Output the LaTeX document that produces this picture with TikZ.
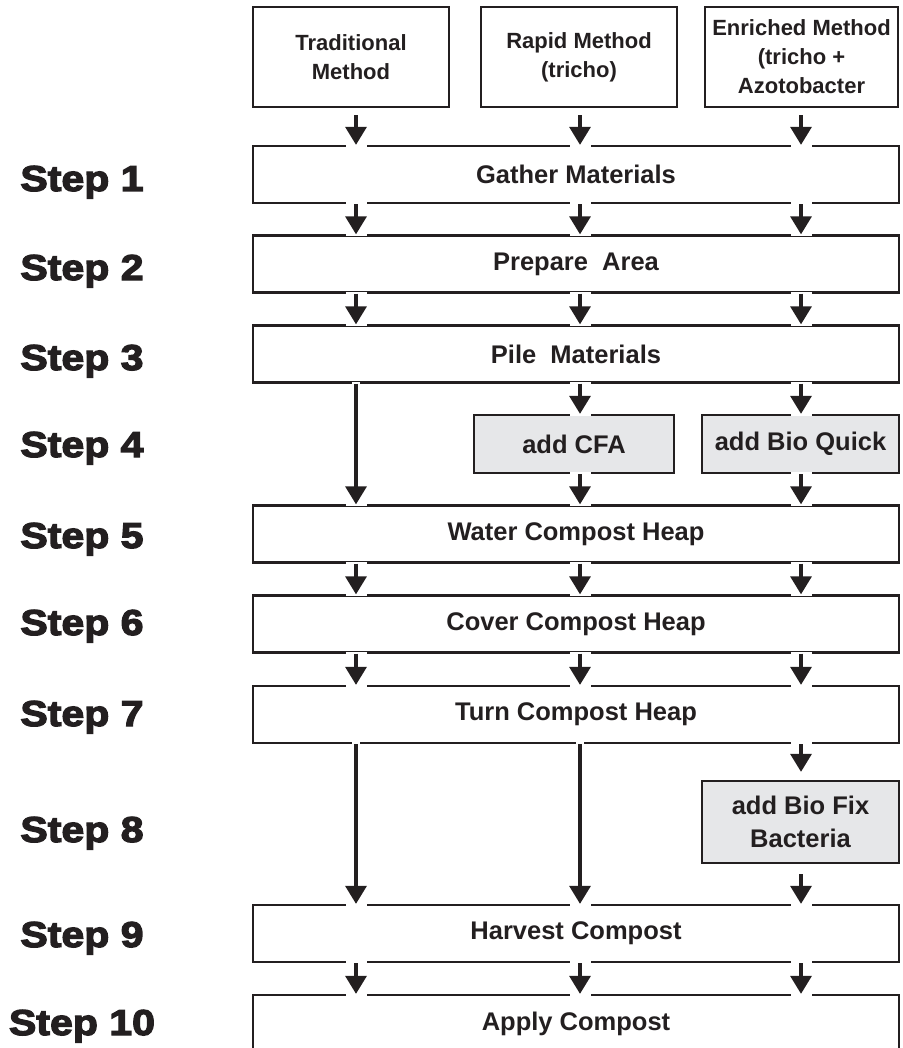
\documentclass[tikz,border=0pt]{standalone}
\usepackage{fontspec}
\usetikzlibrary{arrows.meta, decorations.markings}
\newfontfamily\boxfont{Liberation Sans}
\newfontfamily\stepfont{Liberation Sans}[FakeBold=3.5, FakeStretch=1.14]
\definecolor{ink}{RGB}{35,31,32}
\definecolor{boxgray}{RGB}{230,231,233}

\begin{document}
\begin{tikzpicture}[x=1pt, y=-1pt, color=ink,
  head/.style={draw, line width=2.3pt, minimum width=196pt, minimum height=100pt,
    inner sep=0pt, align=center, font=\boxfont\bfseries\fontsize{22}{29}\selectfont},
  stage/.style={draw, line width=2.3pt, minimum width=646pt, minimum height=57pt,
    inner sep=0pt, align=center, font=\boxfont\bfseries\fontsize{25.5}{29}\selectfont},
  extra/.style={stage, fill=boxgray, minimum width=197pt, minimum height=58pt},
  steplabel/.style={anchor=base, font=\stepfont\bfseries\fontsize{36}{36}\selectfont},
  flow/.style={line width=3.3pt, -{Triangle[width=21pt, length=18pt]}},
  notchend/.style={preaction={decorate, decoration={markings,
    mark=at position 0.999 with {\fill[white] (-3pt,-10.5pt) rectangle (2pt,10.5pt);}}}},
  notchstart/.style={preaction={decorate, decoration={markings,
    mark=at position 0.001 with {\fill[white] (-2pt,-#1) rectangle (3pt,#1);}}}},
  notchstart/.default=10.5pt
]
\useasboundingbox (0,0) rectangle (902,1048);

%% --- columns of the three methods ---
\coordinate (colA) at (356,0);
\coordinate (colB) at (580,0);
\coordinate (colC) at (801,0);

%% --- method boxes ---
\node[head] (trad) at (351,57) {Traditional\\Method};
\node[head] (rapid) at (579,57) {Rapid Method\\(tricho)};
\node[head, minimum width=193pt] (enriched) at (801.5,57)
  {Enriched Method\\(tricho +\\Azotobacter};

%% --- common stages ---
\node[stage] (gather)  at (576,174.5) {Gather Materials};
\node[stage] (prepare) at (576,264)   {Prepare~ Area};
\node[stage] (pile)    at (576,354)   {Pile~ Materials};
\node[stage] (water)   at (576,534)   {Water Compost Heap};
\node[stage] (cover)   at (576,624)   {Cover Compost Heap};
\node[stage] (turn)    at (576,714.5) {Turn Compost Heap};
\node[stage] (harvest) at (576,933.5) {Harvest Compost};
\node[stage] (apply)   at (576,1023.5) {Apply Compost};

%% --- additions ---
\node[extra, minimum width=200pt] (cfa) at (574,444) {add CFA};
\node[extra] (quick) at (800.5,444) {add Bio Quick};
\node[extra, minimum height=82pt, font=\boxfont\bfseries\fontsize{25.5}{33}\selectfont]
  (biofix) at (800.5,822) {add Bio Fix\\Bacteria};

%% --- step labels ---
\node[steplabel] (s1)  at (82,191)  {Step 1};
\node[steplabel] (s2)  at (82,280)  {Step 2};
\node[steplabel] (s3)  at (82,370)  {Step 3};
\node[steplabel] (s4)  at (82,457)  {Step 4};
\node[steplabel] (s5)  at (82,548)  {Step 5};
\node[steplabel] (s6)  at (82,635)  {Step 6};
\node[steplabel] (s7)  at (82,726)  {Step 7};
\node[steplabel] (s8)  at (82,842)  {Step 8};
\node[steplabel] (s9)  at (82,947)  {Step 9};
\node[steplabel] (s10) at (82,1035) {Step 10};

%% --- methods into step 1 ---
\draw[flow, shorten <=7pt, notchend] (trad.south -| colA) -- (gather.north -| colA);
\draw[flow, shorten <=7pt, notchend] (rapid.south -| colB) -- (gather.north -| colB);
\draw[flow, shorten <=7pt, notchend] (enriched.south -| colC) -- (gather.north -| colC);

%% --- steps 1 to 3 ---
\draw[flow, notchstart, notchend] (gather.south -| colA) -- (prepare.north -| colA);
\draw[flow, notchstart, notchend] (gather.south -| colB) -- (prepare.north -| colB);
\draw[flow, notchstart, notchend] (gather.south -| colC) -- (prepare.north -| colC);
\draw[flow, notchstart, notchend] (prepare.south -| colA) -- (pile.north -| colA);
\draw[flow, notchstart, notchend] (prepare.south -| colB) -- (pile.north -| colB);
\draw[flow, notchstart, notchend] (prepare.south -| colC) -- (pile.north -| colC);

%% --- step 4 ---
\draw[flow, notchstart=4pt, notchend] (pile.south -| colA) -- (water.north -| colA);
\draw[flow, notchstart, notchend] (pile.south -| colB) -- (cfa.north -| colB);
\draw[flow, notchstart, notchend] (pile.south -| colC) -- (quick.north -| colC);
\draw[flow, notchstart, notchend] (cfa.south -| colB) -- (water.north -| colB);
\draw[flow, notchstart, notchend] (quick.south -| colC) -- (water.north -| colC);

%% --- steps 5 to 7 ---
\draw[flow, notchstart, notchend] (water.south -| colA) -- (cover.north -| colA);
\draw[flow, notchstart, notchend] (water.south -| colB) -- (cover.north -| colB);
\draw[flow, notchstart, notchend] (water.south -| colC) -- (cover.north -| colC);
\draw[flow, notchstart, notchend] (cover.south -| colA) -- (turn.north -| colA);
\draw[flow, notchstart, notchend] (cover.south -| colB) -- (turn.north -| colB);
\draw[flow, notchstart, notchend] (cover.south -| colC) -- (turn.north -| colC);

%% --- step 8 ---
\draw[flow, notchstart=4pt, notchend] (turn.south -| colA) -- (harvest.north -| colA);
\draw[flow, notchstart=4pt, notchend] (turn.south -| colB) -- (harvest.north -| colB);
\draw[flow, shorten >=8pt, notchstart] (turn.south -| colC) -- (biofix.north -| colC);
\draw[flow, shorten <=10pt, notchend] (biofix.south -| colC) -- (harvest.north -| colC);

%% --- step 10 ---
\draw[flow, notchstart, notchend] (harvest.south -| colA) -- (apply.north -| colA);
\draw[flow, notchstart, notchend] (harvest.south -| colB) -- (apply.north -| colB);
\draw[flow, notchstart, notchend] (harvest.south -| colC) -- (apply.north -| colC);

\end{tikzpicture}
\end{document}
